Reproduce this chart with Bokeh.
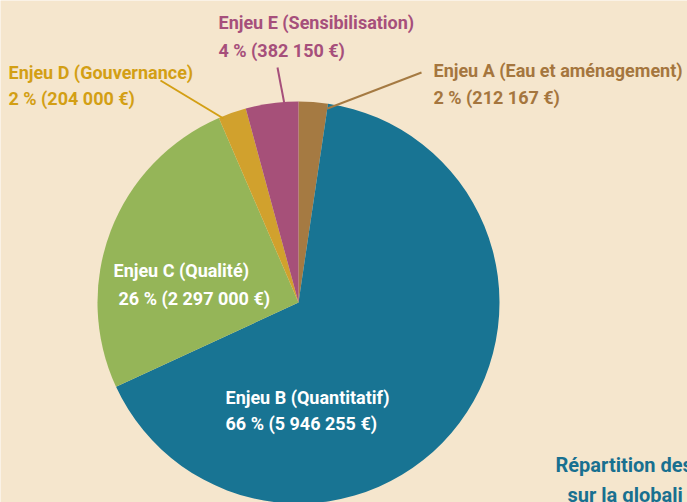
import math
from bokeh.plotting import figure
from bokeh.models import Range1d, ColumnDataSource
from bokeh.core.properties import value
from bokeh.embed import file_html
from bokeh.resources import INLINE

# ---- data ----
categories = ["Enjeu A (Eau et aménagement)", "Enjeu B (Quantitatif)", "Enjeu C (Qualité)",
              "Enjeu D (Gouvernance)", "Enjeu E (Sensibilisation)"]
amounts = [212167, 5946255, 2297000, 204000, 382150]
percent_labels = ["2 % (212 167 €)", "66 % (5 946 255 €)", "26 % (2 297 000 €)",
                  "2 % (204 000 €)", "4 % (382 150 €)"]
colors = ["#a57a42", "#187493", "#95b558", "#d1a12d", "#a65079"]
label_colors = ["#a5763e", "#ffffff", "#ffffff", "#d39f14", "#a64f7b"]
footer_lines = ["Répartition des", "sur la globali"]

W, H = 687, 502
BG = "#f5e6cd"
FONT = value("Roboto")

p = figure(width=W, height=H, output_backend="svg", toolbar_location=None,
           x_range=Range1d(0, W), y_range=Range1d(0, H), min_border=0,
           background_fill_color=BG, border_fill_color=BG)
p.axis.visible = False
p.grid.visible = False
p.outline_line_color = None

total = sum(amounts)
starts, ends = [], []
cum = 0.0
for a in amounts:
    starts.append(math.pi / 2 - cum / total * 2 * math.pi)
    cum += a
    ends.append(math.pi / 2 - cum / total * 2 * math.pi)

cx, cy, r = 298, H - 302, 201
src = ColumnDataSource(dict(start=starts, end=ends, color=colors))
p.wedge(x=cx, y=cy, radius=r, start_angle="start", end_angle="end",
        direction="clock", fill_color="color", line_color=None, source=src)

def Y(y):
    return H - y

# leader lines (layout)
p.segment(x0=[421], y0=[Y(72)], x1=[327], y1=[Y(108)], line_color=colors[0], line_width=2)
p.segment(x0=[160], y0=[Y(80)], x1=[223], y1=[Y(118)], line_color=label_colors[3], line_width=2)
p.segment(x0=[277], y0=[Y(67)], x1=[284], y1=[Y(104)], line_color=label_colors[4], line_width=2)

# label layout: (x, y line1, y line2, x offset line2)
layout = [(433, 70, 97, 0), (225, 397, 423, 0), (113, 270, 298, 5), (8, 72, 98, 0), (218, 22, 50, 0)]
for i, (x, y1, y2, dx) in enumerate(layout):
    p.text(x=[x, x + dx], y=[Y(y1), Y(y2)], text=[categories[i], percent_labels[i]],
           text_color=label_colors[i], text_font=FONT, text_font_style="bold",
           text_font_size="18px", text_align="left", text_baseline="middle")

p.text(x=[555, 567], y=[Y(464), Y(494)], text=footer_lines, text_color="#187090",
       text_font=FONT, text_font_style="bold", text_font_size="20px",
       text_align="left", text_baseline="middle")

open("out.html", "w").write(file_html(p, INLINE))
